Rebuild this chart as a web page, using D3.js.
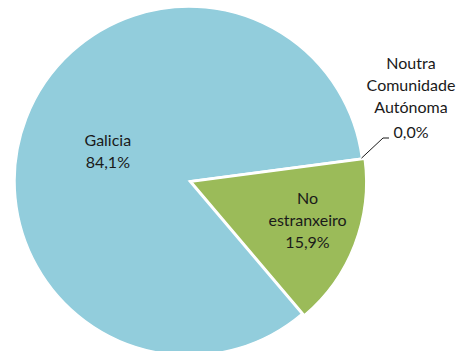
<!DOCTYPE html>
<html><head><meta charset="utf-8">
<script src="https://cdn.jsdelivr.net/npm/d3@7/dist/d3.min.js"></script>
<style>html,body{margin:0;padding:0;background:#fff;}svg{display:block;}</style>
</head><body>
<svg id="c" width="466" height="351"></svg>
<script>
const categories = ["Galicia", "Noutra Comunidade Autónoma", "No estranxeiro"];
const labelLines = [["Galicia"], ["Noutra", "Comunidade", "Autónoma"], ["No", "estranxeiro"]];
const values = [84.1, 0.0, 15.9];
const colors = ["#92CDDC", "#9BBB59", "#9BBB59"];

const svg = d3.select("#c");
const cx = 189, cy = 181, R = 174;
const deg = Math.PI / 180;
const start = 139.7 * deg;
const pie = d3.pie().sort(null).value(d => d).startAngle(start).endAngle(start + 2 * Math.PI);
const arcs = pie(values);
const arc = d3.arc().innerRadius(0).outerRadius(R);
const fmt = v => v.toFixed(1).replace(".", ",") + "%";
const explode = [0, 0, 3];

const g = svg.append("g").attr("transform", `translate(${cx},${cy})`);
g.selectAll("path").data(arcs).join("path")
  .attr("transform", (d, i) => {
    const m = (d.startAngle + d.endAngle) / 2;
    return `translate(${Math.sin(m) * explode[i]},${-Math.cos(m) * explode[i]})`;
  })
  .attr("d", arc)
  .attr("fill", (d, i) => colors[i])
  .attr("stroke", "#fff").attr("stroke-width", 1.5);

const font = "Lato, 'Open Sans', sans-serif";
const fs = 16, lh = 22;
function drawLabel(lines, x, yTop) {
  const t = svg.append("text").attr("font-family", font).attr("font-size", fs)
    .attr("fill", "#1a1a1a").attr("text-anchor", "middle");
  lines.forEach((s, k) => t.append("tspan").attr("x", x).attr("y", yTop + k * lh).text(s));
}
// Galicia
{
  const d = arcs[0], m = (d.startAngle + d.endAngle) / 2, r = R * 0.5;
  const x = cx + Math.sin(m) * r, y = cy - Math.cos(m) * r;
  drawLabel([...labelLines[0], fmt(values[0])], x, y - 4);
}
// No estranxeiro
{
  const d = arcs[2], m = (d.startAngle + d.endAngle) / 2, r = R * 0.73;
  const x = cx + Math.sin(m) * r, y = cy - Math.cos(m) * r;
  drawLabel([...labelLines[2], fmt(values[2])], x, y - 23);
}
// Noutra (outside with leader)
{
  const d = arcs[1], a = d.startAngle;
  const px = cx + Math.sin(a) * R, py = cy - Math.cos(a) * R;
  svg.append("path").attr("d", `M${px},${py}L383,138L389,138`)
    .attr("fill", "none").attr("stroke", "#1a1a1a").attr("stroke-width", 1);
  drawLabel([...labelLines[1]], 411, 69);
  svg.append("text").attr("font-family", font).attr("font-size", fs).attr("fill", "#1a1a1a")
    .attr("text-anchor", "middle").attr("x", 411).attr("y", 138).text(fmt(values[1]));
}
</script>
</body></html>
